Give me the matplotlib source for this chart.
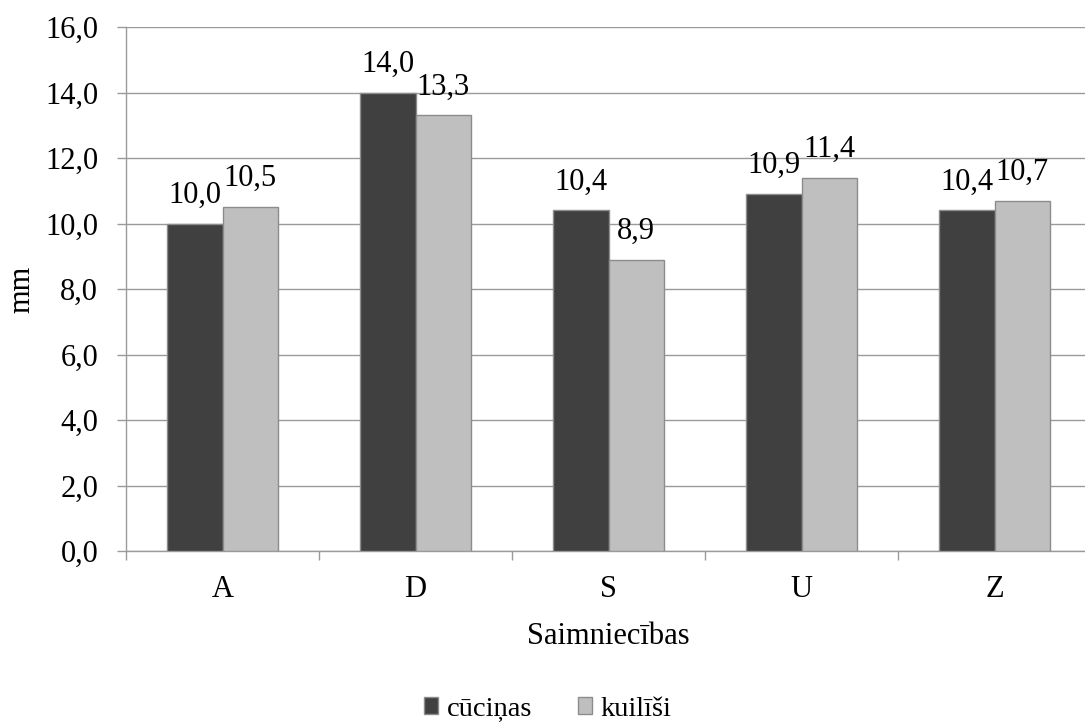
import matplotlib
matplotlib.use("Agg")
import matplotlib.pyplot as plt
import numpy as np
from matplotlib.ticker import FuncFormatter

categories = ["A", "D", "S", "U", "Z"]
cucinas = [10.0, 14.0, 10.4, 10.9, 10.4]
kuilisi = [10.5, 13.3, 8.9, 11.4, 10.7]
series_names = ["cūciņas", "kuilīši"]
y_ticks = [0, 2, 4, 6, 8, 10, 12, 14, 16]

plt.rcParams["font.family"] = ["Liberation Serif", "DejaVu Serif"]
FS = 22

W, H = 1085, 724
fig = plt.figure(figsize=(W / 100, H / 100), dpi=100)
left, right, top, bottom = 126, 1091, 27, 551
ax = fig.add_axes([left / W, 1 - bottom / H, (right - left) / W, (bottom - top) / H])

x = np.arange(len(categories))
bw = 0.285
dark, light = "#404040", "#bfbfbf"
edge = "#8c8c8c"
b1 = ax.bar(x - bw / 2, cucinas, bw, color=dark, edgecolor=edge, linewidth=1, zorder=3)
b2 = ax.bar(x + bw / 2, kuilisi, bw, color=light, edgecolor=edge, linewidth=1, zorder=3)

fmt = lambda v: f"{v:.1f}".replace(".", ",")
for bars, vals in ((b1, cucinas), (b2, kuilisi)):
    for rect, v in zip(bars, vals):
        ax.annotate(fmt(v), (rect.get_x() + rect.get_width() / 2, v),
                    xytext=(0, 15), textcoords="offset points",
                    ha="center", va="baseline", fontsize=FS, color="black", zorder=4)

ax.set_xlim(-0.5, len(categories) - 0.5)
ax.set_ylim(0, 16)
ax.set_yticks(y_ticks)
ax.yaxis.set_major_formatter(FuncFormatter(lambda v, p: fmt(v)))
ax.set_xticks(x)
ax.set_xticklabels(categories)
ax.set_xticks(np.arange(len(categories) + 1) - 0.5, minor=True)

grid_c = "#9a9a9a"
ax.grid(axis="y", color=grid_c, linewidth=1, zorder=0)
for s in ("top", "right"):
    ax.spines[s].set_visible(False)
for s in ("left", "bottom"):
    ax.spines[s].set_color(grid_c)
    ax.spines[s].set_linewidth(1)

ax.tick_params(axis="y", which="major", length=6.5, width=1, color=grid_c,
               labelsize=FS, pad=13.5)
ax.tick_params(axis="x", which="major", length=0, labelsize=FS, pad=17.5)
ax.tick_params(axis="x", which="minor", length=6.5, width=1, color=grid_c)

ax.set_xlabel("Saimniecības", fontsize=FS, labelpad=13)
ax.set_ylabel("mm", fontsize=FS, labelpad=6)

leg = fig.legend([b1, b2], series_names, loc="center", bbox_to_anchor=(0.505, 1 - 709 / H),
                 ncol=2, frameon=False, fontsize=20.5, handlelength=0.5, handleheight=0.5,
                 handletextpad=0.3, columnspacing=1.6)

fig.savefig("out.png", dpi=100)
